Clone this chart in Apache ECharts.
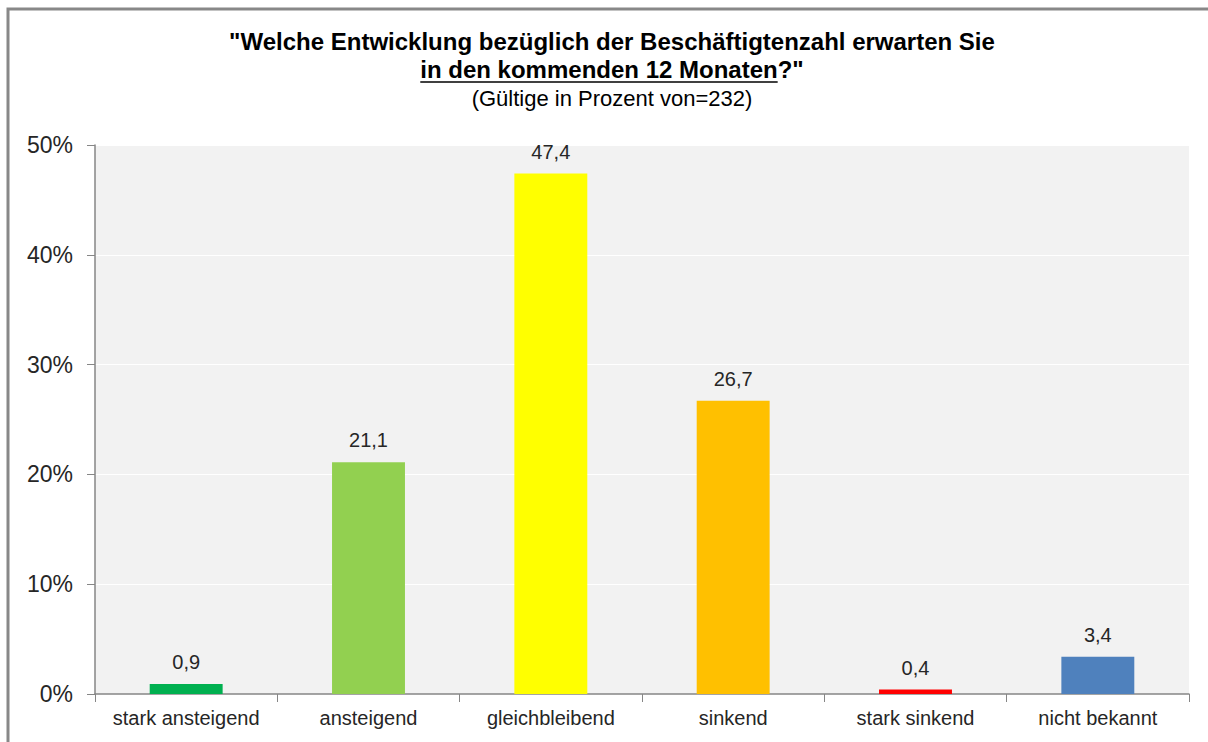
<!DOCTYPE html>
<html>
<head>
<meta charset="utf-8">
<script src="https://cdn.jsdelivr.net/npm/echarts@6/dist/echarts.min.js"></script>
<style>
  html, body { margin: 0; padding: 0; background: #fff; }
  #chart { width: 1208px; height: 742px; }
</style>
</head>
<body>
<div id="chart"></div>
<script>
const categories = ['stark ansteigend', 'ansteigend', 'gleichbleibend', 'sinkend', 'stark sinkend', 'nicht bekannt'];
const values = [0.9, 21.1, 47.4, 26.7, 0.4, 3.4];
const barColors = ['#00b050', '#92d050', '#ffff00', '#ffc000', '#ff0000', '#4f81bd'];
const yTicks = [0, 10, 20, 30, 40, 50];

const titleLine1 = '"Welche Entwicklung bezüglich der Beschäftigtenzahl erwarten Sie';
const titleLine2a = 'in den kommenden 12 Monaten';
const titleLine2b = '?"';
const subTitle = '(Gültige in Prozent von=232)';

const font = '"Liberation Sans", Arial, sans-serif';
const boldFont = 'bold 24px ' + font;

// measure the second title line so the underline sits under the first part only
const ctx = document.createElement('canvas').getContext('2d');
ctx.font = boldFont;
const wA = ctx.measureText(titleLine2a).width;
const wB = ctx.measureText(titleLine2b).width;
const cx = 612;
const line2Left = cx - (wA + wB) / 2;

const chart = echarts.init(document.getElementById('chart'), null, { renderer: 'svg' });

const option = {
  animation: false,
  graphic: [
    {
      type: 'rect',
      shape: { x: 8, y: 9, width: 1400, height: 900 },
      style: { fill: 'none', stroke: '#888', lineWidth: 3 },
      silent: true
    },
    {
      type: 'text',
      style: { x: cx, y: 29, text: titleLine1, align: 'center', verticalAlign: 'top',
        font: boldFont, fill: '#000' }
    },
    {
      type: 'text',
      style: { x: line2Left, y: 57, text: titleLine2a + titleLine2b, align: 'left', verticalAlign: 'top',
        font: boldFont, fill: '#000' }
    },
    {
      type: 'line',
      shape: { x1: line2Left, y1: 82, x2: line2Left + wA, y2: 82 },
      style: { stroke: '#000', lineWidth: 1.5 },
      silent: true
    },
    {
      type: 'text',
      style: { x: cx, y: 87, text: subTitle, align: 'center', verticalAlign: 'top',
        font: '22px ' + font, fill: '#000' }
    }
  ],
  grid: {
    left: 95, right: 19, top: 145, bottom: 48,
    show: true, backgroundColor: '#f2f2f2', borderWidth: 0
  },
  xAxis: {
    type: 'category',
    data: categories,
    axisLine: { lineStyle: { color: '#868686', width: 1.5 } },
    axisTick: { show: true, length: 8, alignWithLabel: false, lineStyle: { color: '#868686' } },
    axisLabel: { interval: 0, fontFamily: font, fontSize: 20, color: '#262626', margin: 14 }
  },
  yAxis: {
    type: 'value',
    min: 0, max: 50, interval: 10,
    axisLine: { show: true, lineStyle: { color: '#868686', width: 1.5 } },
    axisTick: { show: true, length: 8, lineStyle: { color: '#868686' } },
    axisLabel: {
      fontFamily: font, fontSize: 23, color: '#262626', margin: 22,
      formatter: v => yTicks.includes(v) ? v + '%' : ''
    },
    splitLine: { lineStyle: { color: '#ffffff', width: 1 } }
  },
  series: [{
    type: 'bar',
    barWidth: '40%',
    data: values.map((v, i) => ({ value: v, itemStyle: { color: barColors[i] } })),
    label: {
      show: true,
      position: 'top',
      distance: 12,
      fontFamily: font, fontSize: 20, color: '#262626',
      formatter: p => p.value.toFixed(1).replace('.', ',')
    }
  }]
};

chart.setOption(option);
</script>
</body>
</html>
